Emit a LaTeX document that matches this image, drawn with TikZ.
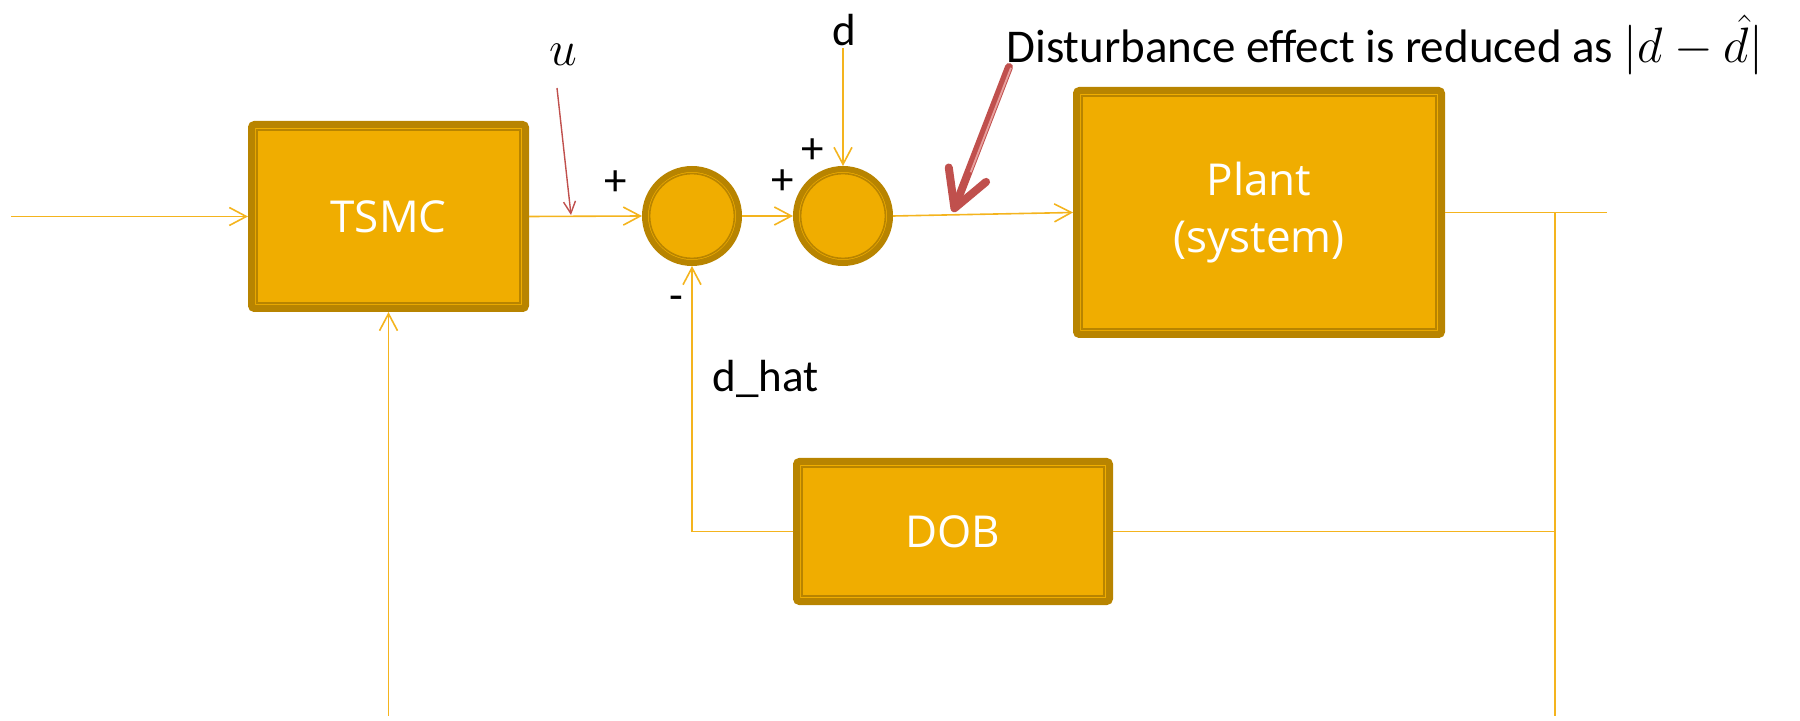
\documentclass[tikz,border=0pt]{standalone}
\usepackage{fontspec}
\setmainfont{Carlito}
\newfontfamily\boxfont{Open Sans}
\usetikzlibrary{arrows.meta,calc}
\definecolor{gfill}{RGB}{240,173,0}
\definecolor{gborder}{RGB}{184,132,0}
\definecolor{gline}{RGB}{244,180,30}
\definecolor{rarrow}{RGB}{192,80,77}
\definecolor{rlight}{RGB}{232,160,158}
\tikzset{
  blockbox/.style={draw=gborder, fill=gfill, line width=3.5pt, rounded corners=1.5pt,
    inner sep=0pt, text=white, font=\boxfont\fontsize{22}{28.5}\selectfont, align=center,
    path picture={\draw[gborder, line width=0.8pt, sharp corners]
      ([shift={(2.8pt,-2.8pt)}]path picture bounding box.north west) rectangle
      ([shift={(-2.8pt,2.8pt)}]path picture bounding box.south east);}},
  sumnode/.style={circle, draw=gborder, fill=gfill, line width=3pt, inner sep=0pt,
    minimum size=47pt,
    path picture={\draw[gborder, line width=0.8pt]
      (path picture bounding box.center) circle (21.2pt);}},
  conn/.style={draw=gline, line width=0.8pt},
  arr/.style={conn, -{Straight Barb[length=8.5pt,width=9pt]}},
  lbl/.style={font=\fontsize{22.5}{27}\selectfont, inner sep=0pt, text=black},
}
\begin{document}
\begin{tikzpicture}[x=0.5pt, y=-0.5pt]
\useasboundingbox (0,0) rectangle (1800,721);

% blocks
\node[blockbox, minimum width=137pt, minimum height=92pt] (tsmc) at (388.5,216.5) {TSMC};
\node[blockbox, minimum width=182.5pt, minimum height=122pt] (plant) at (1259,212.5) {Plant\\(system)};
\node[blockbox, minimum width=156.5pt, minimum height=70pt] (dob) at (953,531.5) {DOB};
\node[sumnode] (c1) at (692,216) {};
\node[sumnode] (c2) at (843,216) {};

% free ends
\coordinate (in) at (11,216.5);
\coordinate (fb) at (388.5,716);
\coordinate (dtop) at (843,48);
\coordinate (out) at (1607,212.5);
\coordinate (j1) at (1555,212.5);
\coordinate (bot) at (1555,716);
\coordinate (jd) at (1555,531.5);
\coordinate (ustart) at (557,88);
\coordinate (uend) at (571,215);
\coordinate (rs) at (1009,67);
\coordinate (re) at (953,212);

% connectors
\draw[arr] (in) -- (tsmc.west);
\draw[arr] (tsmc.east) -- (c1.west);
\draw[arr] (c1.east) -- (c2.west);
\draw[arr] (dtop) -- (c2.north);
\draw[arr] (c2.east) -- (plant.west);
\draw[conn] (plant.east) -- (out);
\draw[conn] (j1) -- (bot);
\draw[conn] (dob.east) -- (jd);
\draw[arr] (dob.west) -| (c1.south);
\draw[arr] (fb) -- (tsmc.south);

% red arrows
\draw[rarrow, line width=0.7pt, -{Straight Barb[length=6pt,width=6pt]}] (ustart) -- (uend);
\draw[rarrow, line width=4pt, line cap=round, -{Straight Barb[length=18pt,width=20pt,round]}] (rs) -- (re);
\draw[rlight, line width=0.9pt] ([shift={(2,0.8)}]rs) -- ([shift={(2,0.8)}]$(rs)!0.72!(re)$);

% labels
\node[lbl] (p1) at (616,183) {+};
\node[lbl] (p2) at (783,182) {+};
\node[lbl] (p3) at (813,151) {+};
\node[lbl] (m1) at (676,303) {-};
\node[lbl] (dl) at (844,30) {d};
\node[lbl, font=\fontsize{28}{30}\selectfont] (ul) at (563,55) {$u$};
\node[lbl, anchor=base west] (dhat) at (712,392) {d\_hat};
\node[lbl, anchor=base west, font=\fontsize{23.5}{28}\selectfont] (dist) at (1006,63) {Disturbance effect is reduced as {\fontsize{31}{31}\selectfont$|d-\hat{d}|$}};
\end{tikzpicture}
\end{document}
